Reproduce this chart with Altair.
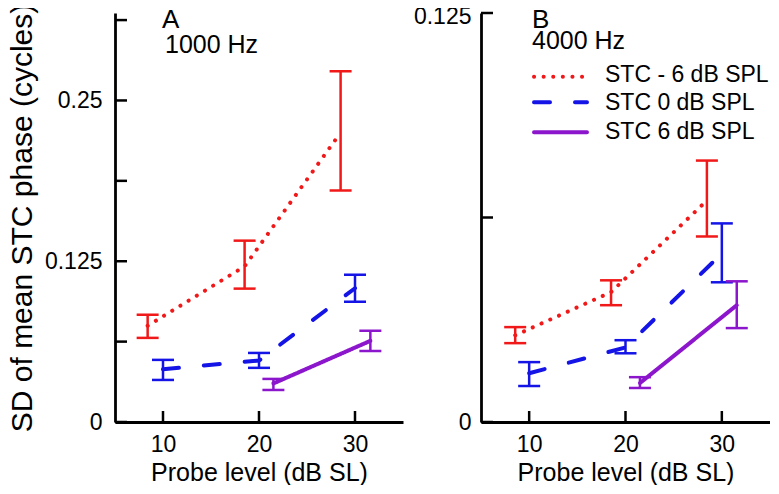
import altair as alt
import pandas as pd

FONT = "Liberation Sans, Arial, Helvetica, sans-serif"

series = ["STC - 6 dB SPL", "STC 0 dB SPL", "STC 6 dB SPL"]
series_colors = ["#f01818", "#1414e6", "#8c16cc"]
series_dash = [[0.1, 9.5], [16, 25], [1, 0]]

panel_letters = ["A", "B"]
panel_freqs = ["1000 Hz", "4000 Hz"]
x_title = "Probe level (dB SL)"
y_title = "SD of mean STC phase (cycles)"
x_ticks = [10, 20, 30]

# Panel A (1000 Hz)
A_red_x = [8.4, 18.5, 28.5]
A_red_mean = [0.0748, 0.1210, 0.2250]
A_red_lo = [0.0654, 0.1037, 0.1800]
A_red_hi = [0.0834, 0.1410, 0.2727]
A_blue_x = [10, 20, 30]
A_blue_mean = [0.0410, 0.0478, 0.1040]
A_blue_lo = [0.0327, 0.0421, 0.0935]
A_blue_hi = [0.0483, 0.0537, 0.1145]
A_purple_x = [21.5, 31.6]
A_purple_mean = [0.0300, 0.0631]
A_purple_lo = [0.0249, 0.0553]
A_purple_hi = [0.0335, 0.0709]

# Panel B (4000 Hz)
B_red_x = [8.55, 18.5, 28.45]
B_red_mean = [0.0265, 0.0397, 0.0677]
B_red_lo = [0.0241, 0.0357, 0.0567]
B_red_hi = [0.0290, 0.0433, 0.0799]
B_blue_x = [10, 20, 30]
B_blue_mean = [0.0149, 0.0228, 0.0515]
B_blue_lo = [0.0110, 0.0210, 0.0427]
B_blue_hi = [0.0183, 0.0250, 0.0607]
B_purple_x = [21.5, 31.55]
B_purple_mean = [0.0119, 0.0357]
B_purple_lo = [0.0104, 0.0287]
B_purple_hi = [0.0137, 0.0430]

A_y_labels = [0, 0.125, 0.25]
A_y_ticks = [0, 0.0625, 0.125, 0.1875, 0.25, 0.3125]
B_y_labels = [0, 0.125]
B_y_ticks = [0, 0.0625, 0.125]


def make_df(groups):
    rows = []
    for s, xs, ms, ls, hs in groups:
        for x, m, l, h in zip(xs, ms, ls, hs):
            rows.append({"series": s, "x": x, "mean": m, "lo": l, "hi": h})
    return pd.DataFrame(rows)


dfA = make_df([
    (series[0], A_red_x, A_red_mean, A_red_lo, A_red_hi),
    (series[1], A_blue_x, A_blue_mean, A_blue_lo, A_blue_hi),
    (series[2], A_purple_x, A_purple_mean, A_purple_lo, A_purple_hi),
])
dfB = make_df([
    (series[0], B_red_x, B_red_mean, B_red_lo, B_red_hi),
    (series[1], B_blue_x, B_blue_mean, B_blue_lo, B_blue_hi),
    (series[2], B_purple_x, B_purple_mean, B_purple_lo, B_purple_hi),
])

W, H = 655, 409
color_enc = alt.Color("series:N", scale=alt.Scale(domain=series, range=series_colors), legend=None)
dash_enc = alt.StrokeDash("series:N", scale=alt.Scale(domain=series, range=series_dash), legend=None)


def text_mark(txt, x, y, size, baseline="alphabetic"):
    return alt.Chart(pd.DataFrame({"t": [txt]})).mark_text(
        font=FONT, fontSize=size, color="black", align="left", baseline=baseline
    ).encode(x=alt.value(x), y=alt.value(y), text="t:N")


def build_panel(df, xrange, ymax, ylabels, yticks, x0, label_padding, show_title,
                letter, freq, letter_xy, freq_xy, label_offset):
    xscale = alt.Scale(domain=[5, 35], range=xrange, nice=False, zero=False)
    yscale = alt.Scale(domain=[0, ymax], nice=False, zero=True)
    xaxis = alt.Axis(
        orient="bottom", values=x_ticks, format="d", ticks=False, grid=False,
        domainColor="black", domainWidth=2.8, labelFlush=False,
        labelFont=FONT, labelFontSize=23, labelColor="black", labelPadding=11,
        title=x_title, titleFont=FONT, titleFontSize=25, titleFontWeight="normal",
        titleColor="black", titleY=58.5, titleBaseline="alphabetic",
    )
    ykw = dict(
        orient="left", values=ylabels, format=".4~g", ticks=False, grid=False,
        domainColor="black", domainWidth=2.8, labelFlush=False,
        labelFont=FONT, labelFontSize=23, labelColor="black", labelPadding=label_padding,
        labelOffset=label_offset,
    )
    if x0 != 0:
        ykw["offset"] = -x0
    if show_title:
        ykw.update(title=y_title, titleFont=FONT, titleFontSize=30, titleFontWeight="normal",
                   titleColor="black", titleX=-78, titleY=H / 2, titleAngle=270,
                   titleBaseline="bottom", titleAlign="center")
    else:
        ykw["title"] = None
    yaxis = alt.Axis(**ykw)

    def X(f):
        return alt.X(f, type="quantitative", scale=xscale, axis=xaxis)

    def Y(f):
        return alt.Y(f, type="quantitative", scale=yscale, axis=yaxis)

    lines = alt.Chart(df).mark_line(strokeWidth=4, strokeCap="round").encode(
        x=X("x"), y=Y("mean"), color=color_enc, strokeDash=dash_enc
    )
    bars = alt.Chart(df).mark_rule(strokeWidth=2.5).encode(
        x=X("x"), y=Y("lo"), y2="hi", color=color_enc
    )
    caps_lo = alt.Chart(df).mark_tick(orient="horizontal", size=22, thickness=2.5, opacity=1).encode(
        x=X("x"), y=Y("lo"), color=color_enc
    )
    caps_hi = alt.Chart(df).mark_tick(orient="horizontal", size=22, thickness=2.5, opacity=1).encode(
        x=X("x"), y=Y("hi"), color=color_enc
    )
    ytk = alt.Chart(pd.DataFrame({"v": yticks})).mark_rule(strokeWidth=2.5, color="black").encode(
        y=Y("v"), x=alt.value(x0), x2=alt.value(x0 + 12)
    )
    xtk = alt.Chart(pd.DataFrame({"v": x_ticks})).mark_rule(strokeWidth=2.5, color="black").encode(
        x=X("v"), y=alt.value(H), y2=alt.value(H - 11)
    )
    t1 = text_mark(letter, letter_xy[0], letter_xy[1], 26)
    t2 = text_mark(freq, freq_xy[0], freq_xy[1], 25)
    return [lines, bars, caps_lo, caps_hi, ytk, xtk, t1, t2]


layersA = build_panel(dfA, [0, 288], 0.318, A_y_labels, A_y_ticks, 0, 13, True,
                      panel_letters[0], panel_freqs[0], (47, 14.5), (50, 39.5), 0)
layersB = build_panel(dfB, [366, 655], 0.125, B_y_labels, B_y_ticks, 366, 10, False,
                      panel_letters[1], panel_freqs[1], (417, 14.5), (417, 36),
                      {"condition": {"test": "datum.value > 0.1", "value": 3}, "value": 0})

legend_layers = []
leg_line_y = [63.7, 89.3, 119.3]
leg_text_y = [61.7, 90.3, 118.7]
for i, s in enumerate(series):
    legend_layers.append(
        alt.Chart(pd.DataFrame({"series": [s]})).mark_rule(
            strokeWidth=4, strokeCap="round", color=series_colors[i], strokeDash=series_dash[i]
        ).encode(x=alt.value(419), x2=alt.value(472), y=alt.value(leg_line_y[i]))
    )
    legend_layers.append(text_mark(s, 490, leg_text_y[i], 23, baseline="middle"))

panelA = alt.layer(*layersA)
panelB = alt.layer(*layersB, *legend_layers)

chart = alt.layer(panelA, panelB).resolve_scale(
    x="independent", y="independent"
).properties(
    width=W, height=H,
    autosize=alt.AutoSizeParams(type="none"),
    padding={"left": 107, "top": 5, "right": 0, "bottom": 63},
    background="white",
).configure_view(stroke=None)

chart.save("out.html", embed_options={"renderer": "svg", "actions": False})
